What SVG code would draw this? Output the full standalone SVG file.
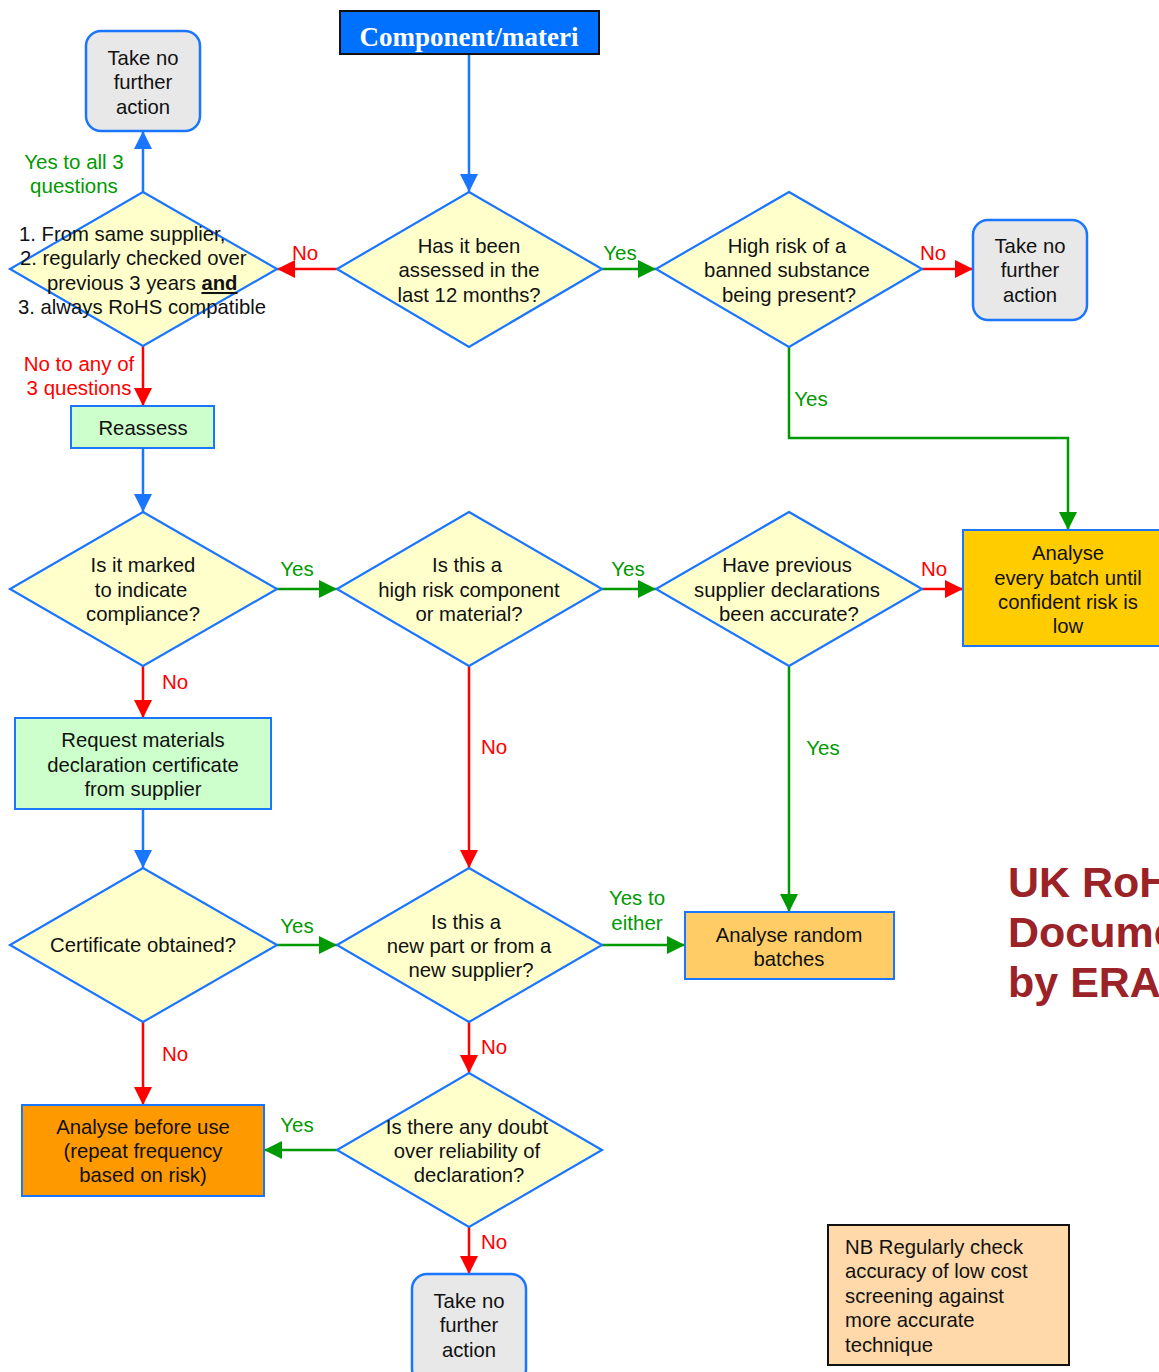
<svg xmlns="http://www.w3.org/2000/svg" width="1159" height="1372" viewBox="0 0 1159 1372">
<style>
.dia{fill:#FFFFCC;stroke:#1A75FF;stroke-width:2.2}
.term{fill:#E8E8E8;stroke:#1A75FF;stroke-width:2.5}
.box{stroke:#1A75FF;stroke-width:2}
.t{font-family:"Liberation Sans",Arial,sans-serif;font-size:20.3px;fill:#111;text-anchor:middle}
.tl{font-family:"Liberation Sans",Arial,sans-serif;font-size:20.3px;fill:#111}
.lr{font-family:"Liberation Sans",Arial,sans-serif;font-size:20.5px;fill:#FF0000;text-anchor:middle}
.lg{font-family:"Liberation Sans",Arial,sans-serif;font-size:20.5px;fill:#009900;text-anchor:middle}
.cb{fill:none;stroke:#1A75FF;stroke-width:2.5}
.cr{fill:none;stroke:#FF0000;stroke-width:2.5}
.cg{fill:none;stroke:#009900;stroke-width:2.5}
</style>
<defs>
<marker id="ab" markerUnits="userSpaceOnUse" markerWidth="18" markerHeight="18" refX="18" refY="9" orient="auto"><path d="M0,0 L18,9 L0,18 z" fill="#1A75FF"/></marker>
<marker id="ar" markerUnits="userSpaceOnUse" markerWidth="18" markerHeight="18" refX="18" refY="9" orient="auto"><path d="M0,0 L18,9 L0,18 z" fill="#FF0000"/></marker>
<marker id="ag" markerUnits="userSpaceOnUse" markerWidth="18" markerHeight="18" refX="18" refY="9" orient="auto"><path d="M0,0 L18,9 L0,18 z" fill="#009900"/></marker>
</defs>
<rect width="1159" height="1372" fill="#fff"/>

<g id="connectors">
<line class="cb" x1="469" y1="54" x2="469" y2="192" marker-end="url(#ab)"/>
<line class="cr" x1="337" y1="269" x2="277" y2="269" marker-end="url(#ar)"/>
<line class="cg" x1="602" y1="269" x2="656" y2="269" marker-end="url(#ag)"/>
<line class="cr" x1="922" y1="269" x2="973" y2="269" marker-end="url(#ar)"/>
<polyline class="cg" points="789,347 789,438 1068,438 1068,530" marker-end="url(#ag)"/>
<line class="cb" x1="143" y1="192" x2="143" y2="131" marker-end="url(#ab)"/>
<line class="cr" x1="143" y1="346" x2="143" y2="406" marker-end="url(#ar)"/>
<line class="cb" x1="143" y1="448" x2="143" y2="512" marker-end="url(#ab)"/>
<line class="cg" x1="277" y1="589" x2="337" y2="589" marker-end="url(#ag)"/>
<line class="cg" x1="602" y1="589" x2="656" y2="589" marker-end="url(#ag)"/>
<line class="cr" x1="922" y1="589" x2="963" y2="589" marker-end="url(#ar)"/>
<line class="cr" x1="143" y1="666" x2="143" y2="718" marker-end="url(#ar)"/>
<line class="cr" x1="469" y1="666" x2="469" y2="868" marker-end="url(#ar)"/>
<line class="cg" x1="789" y1="666" x2="789" y2="912" marker-end="url(#ag)"/>
<line class="cb" x1="143" y1="809" x2="143" y2="868" marker-end="url(#ab)"/>
<line class="cg" x1="277" y1="945" x2="337" y2="945" marker-end="url(#ag)"/>
<line class="cg" x1="602" y1="945" x2="685" y2="945" marker-end="url(#ag)"/>
<line class="cr" x1="143" y1="1022" x2="143" y2="1105" marker-end="url(#ar)"/>
<line class="cr" x1="469" y1="1022" x2="469" y2="1073" marker-end="url(#ar)"/>
<line class="cg" x1="337" y1="1150" x2="264" y2="1150" marker-end="url(#ag)"/>
<line class="cr" x1="469" y1="1227" x2="469" y2="1274" marker-end="url(#ar)"/>
<text class="lr" x="305" y="260">No</text>
<text class="lg" x="620" y="260">Yes</text>
<text class="lr" x="933" y="260">No</text>
<text class="lg" x="811" y="406">Yes</text>
<text class="lg" x="74" y="169">Yes to all 3</text>
<text class="lg" x="74" y="193">questions</text>
<text class="lr" x="79" y="371">No to any of</text>
<text class="lr" x="79" y="395">3 questions</text>
<text class="lg" x="297" y="576">Yes</text>
<text class="lg" x="628" y="576">Yes</text>
<text class="lr" x="934" y="576">No</text>
<text class="lr" x="175" y="689">No</text>
<text class="lr" x="494" y="754">No</text>
<text class="lg" x="823" y="755">Yes</text>
<text class="lg" x="297" y="933">Yes</text>
<text class="lg" x="637" y="905">Yes to</text>
<text class="lg" x="637" y="930">either</text>
<text class="lr" x="175" y="1061">No</text>
<text class="lr" x="494" y="1054">No</text>
<text class="lg" x="297" y="1132">Yes</text>
<text class="lr" x="494" y="1249">No</text>
</g>

<g id="start">
<rect x="340" y="11" width="259" height="43" fill="#0070FF" stroke="#111" stroke-width="2"/>
<text x="469" y="46" text-anchor="middle" font-family="'Liberation Serif','Times New Roman',serif" font-weight="bold" font-size="27" fill="#fff">Component/materi</text>
</g>

<g id="d-assessed">
<polygon class="dia" points="469,192 602,269 469,347 337,269"/>
<text class="t" x="469" y="253">Has it been</text>
<text class="t" x="469" y="277">assessed in the</text>
<text class="t" x="469" y="302">last 12 months?</text>
</g>

<g id="d-highrisk">
<polygon class="dia" points="789,192 922,269 789,347 656,269"/>
<text class="t" x="787" y="253">High risk of a</text>
<text class="t" x="787" y="277">banned substance</text>
<text class="t" x="789" y="302">being present?</text>
</g>

<g id="term-right">
<rect class="term" x="973" y="220" width="114" height="100" rx="15"/>
<text class="t" x="1030" y="253">Take no</text>
<text class="t" x="1030" y="277">further</text>
<text class="t" x="1030" y="302">action</text>
</g>

<g id="d-three">
<polygon class="dia" points="143,192 277,269 143,346 10,269"/>
<text class="tl" x="19" y="241">1. From same supplier,</text>
<text class="tl" x="20" y="265">2. regularly checked over</text>
<text class="tl" x="47" y="290">previous 3 years <tspan font-weight="bold" text-decoration="underline">and</tspan></text>
<text class="tl" x="18" y="314">3. always RoHS compatible</text>
</g>

<g id="term-topleft">
<rect class="term" x="86" y="31" width="114" height="100" rx="15"/>
<text class="t" x="143" y="65">Take no</text>
<text class="t" x="143" y="89">further</text>
<text class="t" x="143" y="114">action</text>
</g>

<g id="reassess">
<rect class="box" x="71" y="406" width="143" height="42" fill="#CCFFCC"/>
<text class="t" x="143" y="435">Reassess</text>
</g>

<g id="d-marked">
<polygon class="dia" points="143,512 277,589 143,666 10,589"/>
<text class="t" x="143" y="572">Is it marked</text>
<text class="t" x="141" y="597">to indicate</text>
<text class="t" x="143" y="621">compliance?</text>
</g>

<g id="d-highriskcomp">
<polygon class="dia" points="469,512 602,589 469,666 337,589"/>
<text class="t" x="467" y="572">Is this a</text>
<text class="t" x="469" y="597">high risk component</text>
<text class="t" x="469" y="621">or material?</text>
</g>

<g id="d-previous">
<polygon class="dia" points="789,512 922,589 789,666 656,589"/>
<text class="t" x="787" y="572">Have previous</text>
<text class="t" x="787" y="597">supplier declarations</text>
<text class="t" x="789" y="621">been accurate?</text>
</g>

<g id="analyse-every">
<rect class="box" x="963" y="530" width="200" height="116" fill="#FFCC00"/>
<text class="t" x="1068" y="560">Analyse</text>
<text class="t" x="1068" y="585">every batch until</text>
<text class="t" x="1068" y="609">confident risk is</text>
<text class="t" x="1068" y="633">low</text>
</g>

<g id="request">
<rect class="box" x="15" y="718" width="256" height="91" fill="#CCFFCC"/>
<text class="t" x="143" y="747">Request materials</text>
<text class="t" x="143" y="772">declaration certificate</text>
<text class="t" x="143" y="796">from supplier</text>
</g>

<g id="d-certificate">
<polygon class="dia" points="143,868 277,945 143,1022 10,945"/>
<text class="t" x="143" y="952">Certificate obtained?</text>
</g>

<g id="d-newpart">
<polygon class="dia" points="469,868 602,945 469,1022 337,945"/>
<text class="t" x="466" y="929">Is this a</text>
<text class="t" x="469" y="953">new part or from a</text>
<text class="t" x="471" y="977">new supplier?</text>
</g>

<g id="analyse-random">
<rect class="box" x="685" y="912" width="209" height="67" fill="#FFCC66"/>
<text class="t" x="789" y="942">Analyse random</text>
<text class="t" x="789" y="966">batches</text>
</g>

<g id="analyse-before">
<rect class="box" x="22" y="1105" width="242" height="91" fill="#FF9900"/>
<text class="t" x="143" y="1134">Analyse before use</text>
<text class="t" x="143" y="1158">(repeat frequency</text>
<text class="t" x="143" y="1182">based on risk)</text>
</g>

<g id="d-doubt">
<polygon class="dia" points="469,1073 602,1150 469,1227 337,1150"/>
<text class="t" x="467" y="1134">Is there any doubt</text>
<text class="t" x="467" y="1158">over reliability of</text>
<text class="t" x="469" y="1182">declaration?</text>
</g>

<g id="term-bottom">
<rect class="term" x="412" y="1274" width="114" height="110" rx="15"/>
<text class="t" x="469" y="1308">Take no</text>
<text class="t" x="469" y="1332">further</text>
<text class="t" x="469" y="1357">action</text>
</g>

<g id="note">
<rect x="828" y="1225" width="241" height="140" fill="#FFD9AA" stroke="#111" stroke-width="2"/>
<text class="tl" x="845" y="1254">NB Regularly check</text>
<text class="tl" x="845" y="1278">accuracy of low cost</text>
<text class="tl" x="845" y="1303">screening against</text>
<text class="tl" x="845" y="1327">more accurate</text>
<text class="tl" x="845" y="1352">technique</text>
</g>

<g id="title" font-family="'Liberation Sans',Arial,sans-serif" font-weight="bold" font-size="43" fill="#9B2226">
<text x="1008" y="897">UK RoH</text>
<text x="1008" y="947">Docume</text>
<text x="1008" y="997">by ERA</text>
</g>
</svg>
